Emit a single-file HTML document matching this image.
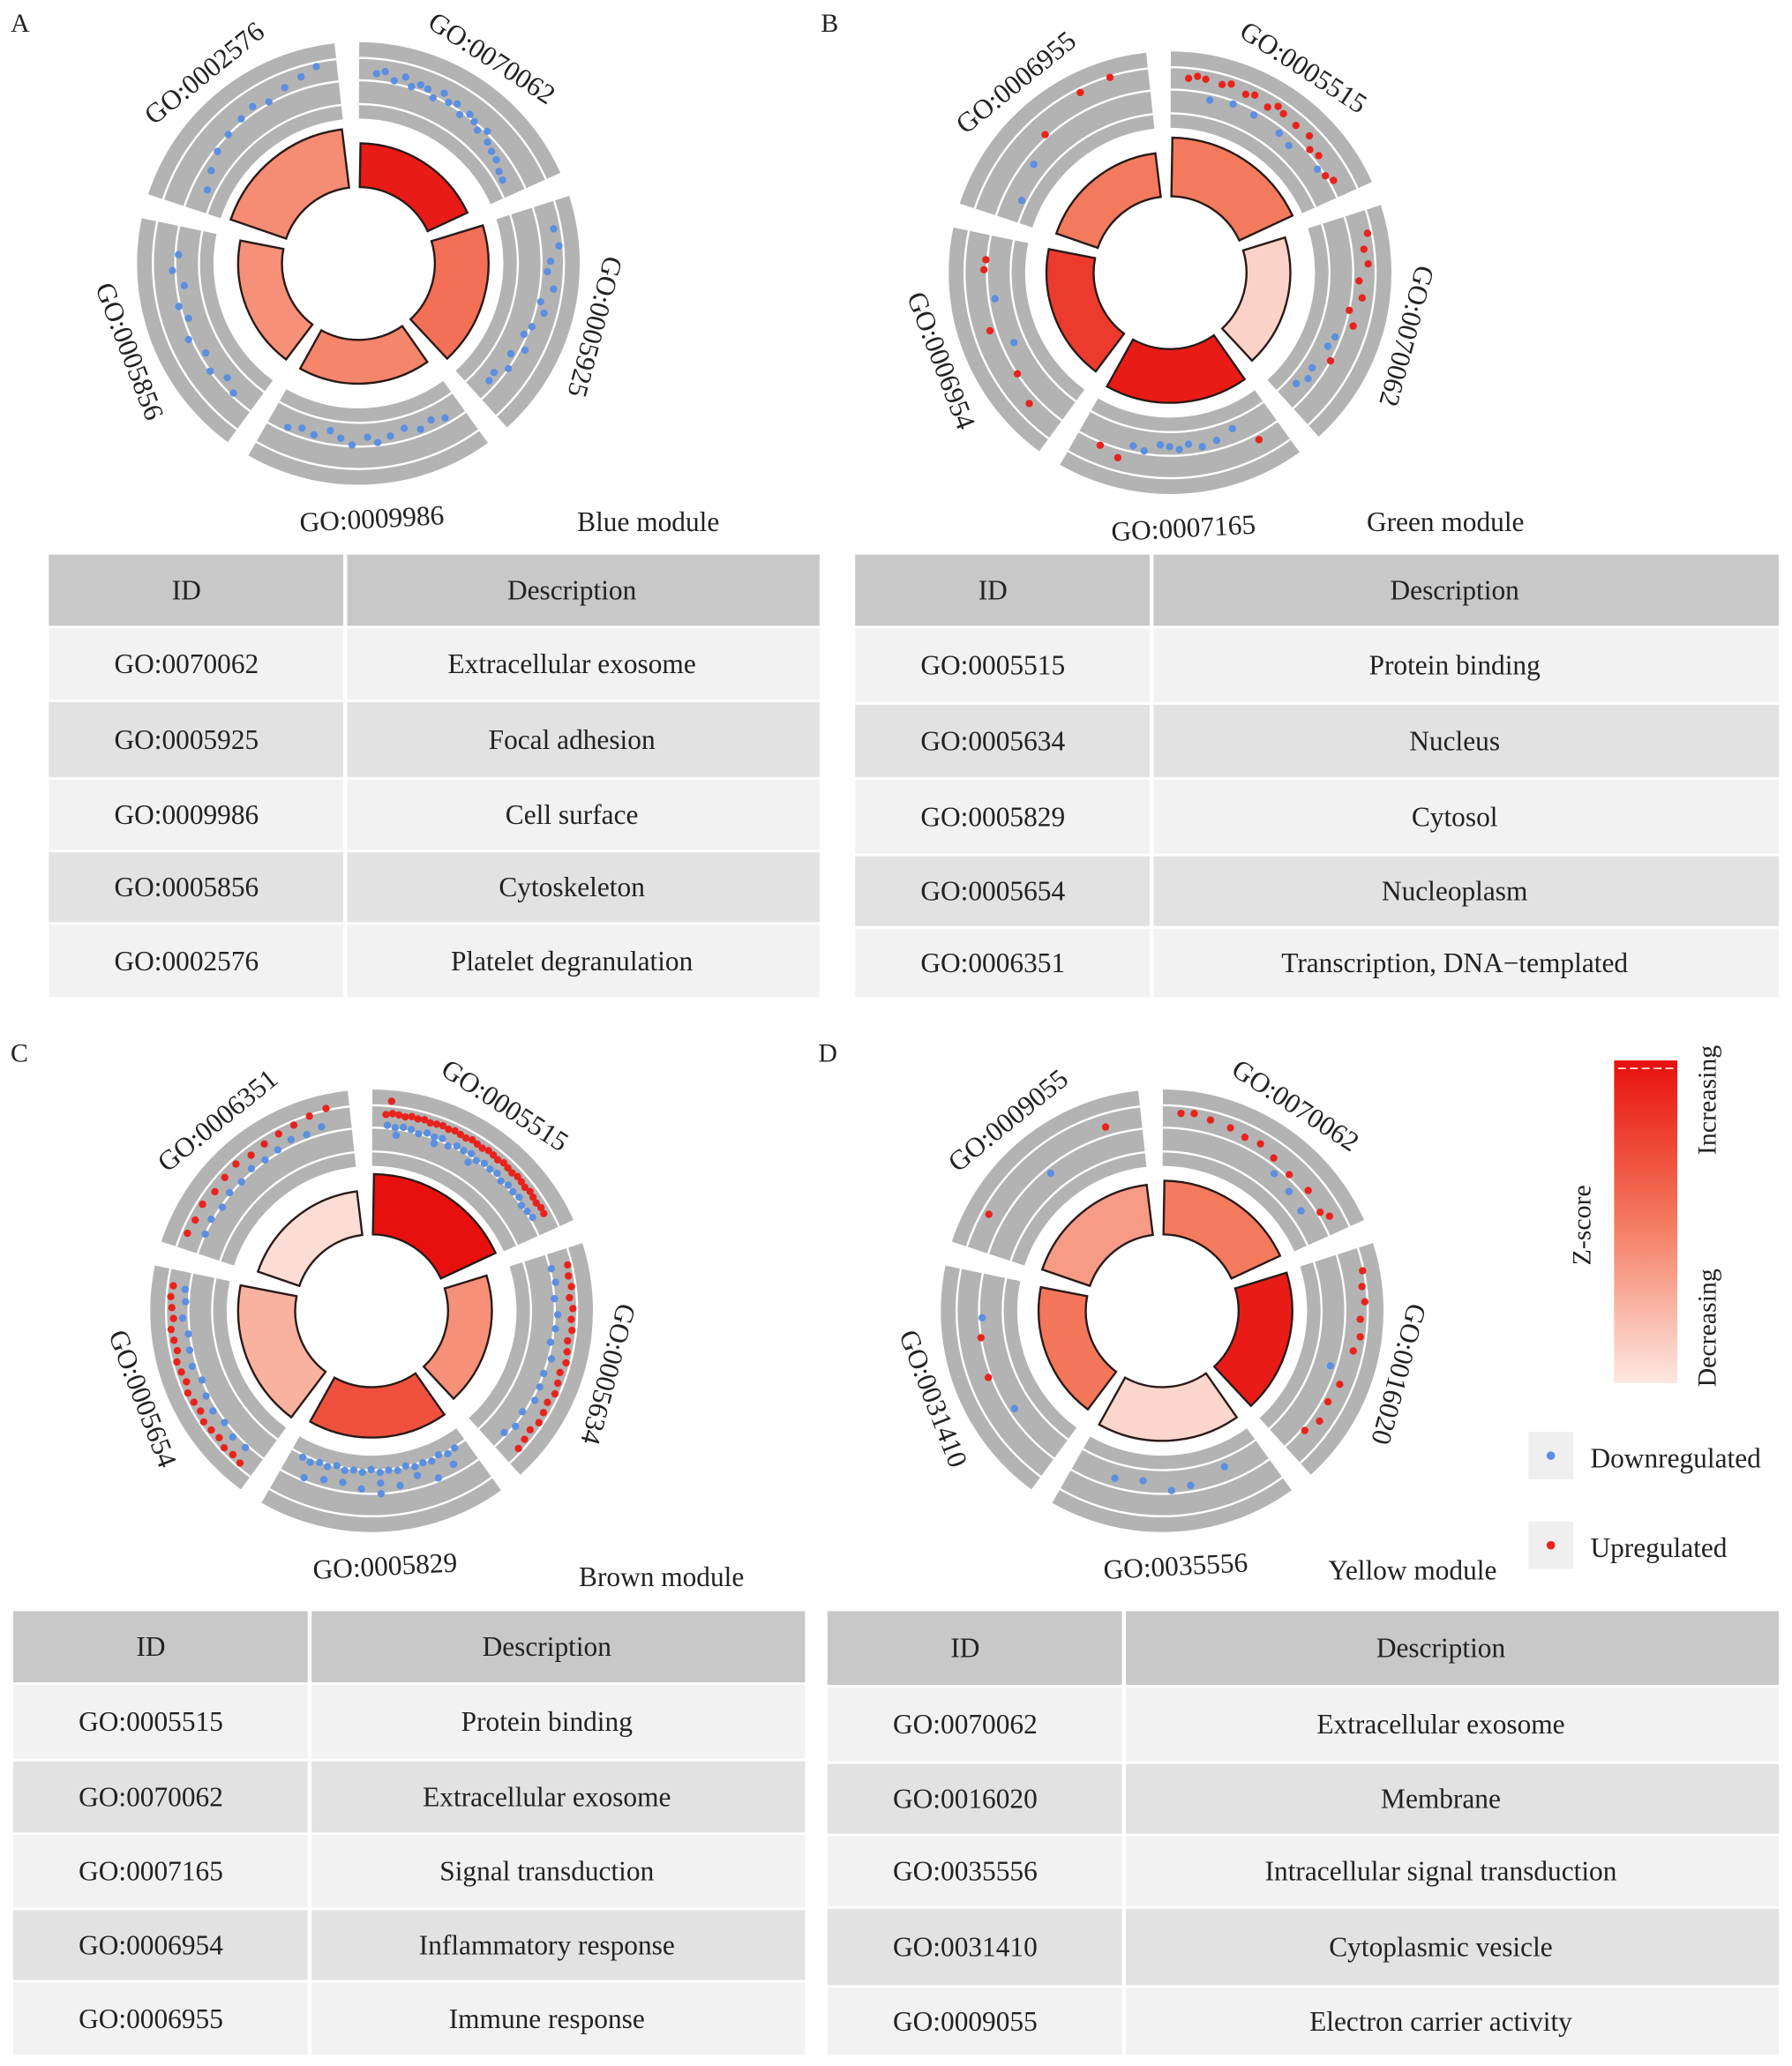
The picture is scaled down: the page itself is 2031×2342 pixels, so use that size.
<!DOCTYPE html>
<html><head><meta charset="utf-8">
<style>
html,body{margin:0;padding:0;background:#fff;}
svg{display:block;}
text{font-family:"Liberation Serif",serif;fill:#222;}
</style></head>
<body>
<svg id="fig" xmlns="http://www.w3.org/2000/svg" width="2031" height="2342" viewBox="0 0 1360 1568.3">
<defs>
<linearGradient id="zgrad" x1="0" y1="0" x2="0" y2="1">
<stop offset="0" stop-color="#e8100e"/><stop offset="0.5" stop-color="#f47a5e"/><stop offset="1" stop-color="#fde8e2"/>
</linearGradient>
</defs>
<g id="charts"></g>
<g id="tables"></g>
<g>
<rect x="1225" y="805" width="48" height="245" fill="url(#zgrad)"/>
<line x1="1228" y1="811" x2="1270" y2="811" stroke="#fff" stroke-width="1" stroke-dasharray="6,3"/>
<text x="1207" y="930" font-size="20" text-anchor="middle" transform="rotate(-90 1207 930)">Z-score</text>
<text x="1302" y="835" font-size="20" text-anchor="middle" transform="rotate(-90 1302 835)">Increasing</text>
<text x="1302" y="1008" font-size="20" text-anchor="middle" transform="rotate(-90 1302 1008)">Decreasing</text>
<rect x="1160" y="1087" width="34" height="36" fill="#efefef"/>
<circle cx="1177" cy="1105" r="3.2" fill="#5b8fe0"/>
<text x="1207" y="1114" font-size="21">Downregulated</text>
<rect x="1160" y="1155" width="34" height="36" fill="#efefef"/>
<circle cx="1177" cy="1173" r="3.2" fill="#e8231c"/>
<text x="1207" y="1182" font-size="21">Upregulated</text>
</g>
<text x="8" y="24" font-size="20">A</text>
<text x="623" y="24" font-size="20">B</text>
<text x="8" y="806" font-size="20">C</text>
<text x="621" y="806" font-size="20">D</text>
</svg>
<script>
const NS='http://www.w3.org/2000/svg';
// ---- data ----
const labelsA=['GO:0070062','GO:0005925','GO:0009986','GO:0005856','GO:0002576'];
const labelsB=['GO:0005515','GO:0070062','GO:0007165','GO:0006954','GO:0006955'];
const labelsC=['GO:0005515','GO:0005634','GO:0005829','GO:0005654','GO:0006351'];
const labelsD=['GO:0070062','GO:0016020','GO:0035556','GO:0031410','GO:0009055'];
const zA=[0.95,0.55,0.45,0.4,0.42];
const zB=[0.5,0.1,0.95,0.8,0.5];
const zC=[1.0,0.4,0.7,0.25,0.05];
const zD=[0.5,0.95,0.08,0.52,0.35];
const countA=[0.45,0.75,0.45,0.45,0.9];
const countB=[0.9,0.45,0.75,0.55,0.45];
const countC=[0.95,0.45,0.65,0.85,0.45];
const countD=[0.75,0.75,0.75,0.55,0.65];
// colour threshold per panel (logFC >= threshold drawn red)
const upThreshold={a:2,b:0,c:0.3,d:0};
// dots: [fraction across sector, logFC (-1..1)]
const dotsA=[
[[.06,.25],[.1,.35],[.15,.1],[.2,.3],[.24,.05],[.28,.2],[.32,.15],[.36,-.05],[.4,.25],[.44,.05],[.48,.15],[.52,-.1],[.56,.1],[.6,0],[.64,-.15],[.68,.05],[.72,-.2],[.77,-.3],[.82,-.35],[.88,-.5],[.93,-.55]],
[[.1,.5],[.18,.6],[.25,.3],[.3,.2],[.38,.45],[.45,.1],[.5,.3],[.58,.05],[.63,-.1],[.7,.15],[.75,-.2],[.82,.0],[.88,-.3],[.93,-.25]],
[[.08,-.2],[.15,-.35],[.22,-.2],[.3,-.4],[.38,-.25],[.45,-.1],[.5,-.3],[.58,-.05],[.64,-.25],[.7,-.45],[.78,-.2],[.85,-.3],[.92,-.15]],
[[.1,-.1],[.18,-.3],[.26,0],[.35,-.2],[.45,.1],[.55,-.15],[.62,.05],[.72,-.25],[.8,.1],[.88,-.1]],
[[.1,-.5],[.2,-.3],[.3,-.1],[.4,0],[.5,.1],[.58,.2],[.66,.05],[.76,.25],[.85,.4],[.93,.6]]];
const dotsB=[
[[.06,.4],[.1,.5],[.14,.45],[.18,-.2],[.22,.4],[.26,.5],[.3,-.1],[.34,.35],[.38,.45],[.42,-.15],[.46,.3],[.5,.5],[.54,.4],[.58,-.2],[.62,.35],[.66,-.3],[.7,.4],[.75,.1],[.8,.2],[.85,-.1],[.9,.0],[.94,.15]],
[[.08,.6],[.15,.4],[.22,.5],[.3,.2],[.38,.35],[.45,.0],[.52,.25],[.6,-.2],[.66,-.3],[.72,.0],[.8,-.4],[.86,-.3],[.92,-.5]],
[[.1,.2],[.2,-.5],[.3,-.3],[.38,-.2],[.45,-.35],[.5,-.2],[.55,-.3],[.6,-.35],[.68,-.1],[.74,-.2],[.8,.3],[.9,.1]],
[[.15,.3],[.3,.0],[.45,-.4],[.55,.2],[.7,-.2],[.85,.1],[.9,.05]],
[[.1,-.6],[.3,-.3],[.45,.1],[.7,.6],[.85,.7]]];
const dotsC=[
[[.04,.45],[.07,.5],[.1,.48],[.13,.45],[.16,.5],[.19,.47],[.22,.5],[.25,.45],[.28,.48],[.31,.5],[.34,.46],[.37,.5],[.4,.47],[.43,.45],[.46,.5],[.49,.47],[.52,.45],[.55,.5],[.58,.48],[.61,.45],[.64,.5],[.67,.47],[.7,.45],[.73,.5],[.76,.48],[.79,.45],[.82,.5],[.85,.47],[.88,.45],[.91,.5],[.94,.48],
 [.05,.1],[.09,.05],[.13,.1],[.17,.08],[.21,.0],[.25,.1],[.29,.05],[.33,.1],[.37,-.05],[.41,.08],[.45,.05],[.49,.1],[.53,.0],[.57,.08],[.61,.05],[.65,.1],[.69,.0],[.73,.08],[.77,.05],[.81,.1],[.85,.0],[.89,.05],[.93,.1],[.1,-.2],[.3,-.15],[.5,-.2],[.06,.9]],
[[.05,.6],[.1,.55],[.15,.6],[.2,.5],[.25,.6],[.3,.55],[.35,.6],[.4,.5],[.45,.55],[.5,.6],[.55,.5],[.6,.55],[.65,.6],[.7,.5],[.75,.55],[.8,.6],[.85,.5],[.9,.55],[.95,.6],
 [.05,.05],[.12,.1],[.2,.0],[.28,.1],[.35,.05],[.42,-.05],[.5,.1],[.58,0],[.65,.05],[.72,.1],[.8,-.05],[.88,.05],[.94,-.1]],
[[.05,-.75],[.1,-.7],[.15,-.8],[.2,-.7],[.25,-.75],[.3,-.7],[.35,-.8],[.4,-.7],[.45,-.75],[.5,-.7],[.55,-.8],[.6,-.7],[.65,-.75],[.7,-.7],[.75,-.8],[.8,-.7],[.85,-.75],[.9,-.65],[.95,-.7],
 [.1,-.3],[.2,-.1],[.3,-.4],[.4,-.2],[.5,-.35],[.6,-.15],[.7,-.3],[.8,-.25],[.9,-.1],[.5,.0]],
[[.05,.6],[.1,.55],[.15,.6],[.2,.5],[.25,.55],[.3,.6],[.35,.5],[.4,.55],[.45,.6],[.5,.5],[.55,.55],[.6,.6],[.65,.5],[.7,.55],[.75,.6],[.8,.5],[.85,.55],[.9,.6],[.95,.55],
 [.08,.1],[.16,.15],[.24,.05],[.32,.15],[.4,.1],[.48,.0],[.56,.15],[.64,.1],[.72,.05],[.8,.2],[.88,.1],[.94,.15]],
[[.05,.55],[.12,.5],[.2,.55],[.28,.45],[.36,.5],[.44,.55],[.52,.45],[.6,.5],[.68,.55],[.76,.6],[.84,.7],[.92,.8],
 [.08,0],[.16,.05],[.24,-.05],[.32,.05],[.4,0],[.48,.1],[.56,.05],[.64,.1],[.72,.2],[.8,.15],[.88,.25]]];
const dotsD=[
[[.06,.5],[.12,.55],[.2,.45],[.3,.4],[.38,.3],[.46,.35],[.55,.2],[.6,-.2],[.66,.1],[.72,-.3],[.78,.2],[.84,-.4],[.9,.1],[.94,.3]],
[[.08,.7],[.15,.6],[.22,.65],[.3,.5],[.38,.55],[.45,.4],[.55,-.2],[.62,.3],[.72,.2],[.82,.3],[.9,.1]],
[[.2,-.5],[.4,-.2],[.5,-.1],[.65,-.4],[.8,-.3]],
[[.3,-.2],[.5,.1],[.7,.0],[.8,-.1]],
[[.15,.5],[.5,-.2],[.85,.3]]];
// ---- drawing helpers ----
function P(cx,cy,r,a){const t=a*Math.PI/180;return [cx+r*Math.sin(t),cy-r*Math.cos(t)];}
function arcPath(cx,cy,r0,r1,a0,a1){
 const p1=P(cx,cy,r1,a0),p2=P(cx,cy,r1,a1),p3=P(cx,cy,r0,a1),p4=P(cx,cy,r0,a0);
 const lg=(a1-a0)>180?1:0;
 return `M${p1[0]},${p1[1]}A${r1},${r1} 0 ${lg} 1 ${p2[0]},${p2[1]}L${p3[0]},${p3[1]}A${r0},${r0} 0 ${lg} 0 ${p4[0]},${p4[1]}Z`;
}
function zColor(z){
 const a=[253,232,226],b=[244,122,94],c=[232,16,14];
 let s,e,t; if(z<0.5){s=a;e=b;t=z/0.5;}else{s=b;e=c;t=(z-0.5)/0.5;}
 return `rgb(${s.map((v,i)=>Math.round(v+(e[i]-v)*t)).join(',')})`;
}
const R0=58,RIN=110,ROUT=168,OFF=-3,SPAN=72;
const barR=c=>R0+22+c*25;
const dotR=v=>RIN+6+(v+1)/2*(ROUT-RIN-12);
function el(tag,attrs,parent){const e=document.createElementNS(NS,tag);for(const k in attrs)e.setAttribute(k,attrs[k]);parent.appendChild(e);return e;}
function drawChart(id,cx,cy,labels,z,cnt,dots,modName,mx,my){
 const g=el('g',{},document.getElementById('charts'));
 
 
 for(let k=0;k<5;k++){
  const a0=OFF+SPAN*k+3.2,a1=OFF+SPAN*(k+1)-3.2;
  const ring=el('path',{d:arcPath(cx,cy,RIN,ROUT,a0,a1),fill:'#b3b3b3'},g);
  
  
  [RIN+11,RIN+29,RIN+46].forEach(r=>{
   const q=P(cx,cy,r,a0),w=P(cx,cy,r,a1);
   el('path',{d:`M${q[0]},${q[1]}A${r},${r} 0 0 1 ${w[0]},${w[1]}`,fill:'none',stroke:'#fff','stroke-width':1.6},g);
  });
  const b0=OFF+SPAN*k+4,b1=OFF+SPAN*(k+1)-4;
  const bar=el('path',{d:arcPath(cx,cy,R0,barR(cnt[k]),b0,b1),fill:zColor(z[k]),stroke:'#2a1a18','stroke-width':1.6},g);
  
  
  dots[k].forEach(d=>{
   const a=a0+1.5+d[0]*(a1-a0-3);
   const p=P(cx,cy,dotR(d[1]),a);
   const c=el('circle',{cx:p[0],cy:p[1],r:2.8,fill:d[1]>=upThreshold[id]?'#e8231c':'#5b8fe0'},g);
   
   
  });
  const mid=OFF+SPAN*k+SPAN/2;
  const bottom=(mid>140&&mid<230);
  const lp=P(cx,cy,ROUT+(bottom?26:18),mid);
  const rot=mid>300?mid-360:(mid>140?mid-180:mid);
  const t=el('text',{x:lp[0],y:lp[1],'font-size':21,'text-anchor':'middle','dominant-baseline':'central',transform:`rotate(${rot} ${lp[0]} ${lp[1]})`},g);
  t.textContent=labels[k];
  
  
 }
 const m=el('text',{x:mx,y:my,'font-size':21,'text-anchor':'middle'},g);
 m.textContent=modName;
 
 
}
drawChart('a',272,200,labelsA,zA,countA,dotsA,'Blue module',492,403);
drawChart('b',888,207,labelsB,zB,countB,dotsB,'Green module',1097,403);
drawChart('c',282,995,labelsC,zC,countC,dotsC,'Brown module',502,1204);
drawChart('d',882,995,labelsD,zD,countD,dotsD,'Yellow module',1072,1199);
// ---- tables ----
const tA=[['GO:0070062','Extracellular exosome'],['GO:0005925','Focal adhesion'],['GO:0009986','Cell surface'],['GO:0005856','Cytoskeleton'],['GO:0002576','Platelet degranulation']];
const tB=[['GO:0005515','Protein binding'],['GO:0005634','Nucleus'],['GO:0005829','Cytosol'],['GO:0005654','Nucleoplasm'],['GO:0006351','Transcription, DNA\u2212templated']];
const tC=[['GO:0005515','Protein binding'],['GO:0070062','Extracellular exosome'],['GO:0007165','Signal transduction'],['GO:0006954','Inflammatory response'],['GO:0006955','Immune response']];
const tD=[['GO:0070062','Extracellular exosome'],['GO:0016020','Membrane'],['GO:0035556','Intracellular signal transduction'],['GO:0031410','Cytoplasmic vesicle'],['GO:0009055','Electron carrier activity']];
function drawTable(id,x0,split,x1,ys,rows){
 const g=el('g',{},document.getElementById('tables'));
 
 
 const fills=['#c8c8c8','#f2f2f2','#e2e2e2','#f2f2f2','#e2e2e2','#f2f2f2'];
 for(let i=0;i<6;i++){
  const y0=ys[i],y1=ys[i+1]-2;
  el('rect',{x:x0,y:y0,width:split-x0-1.5,height:y1-y0,fill:fills[i]},g);
  el('rect',{x:split+1.5,y:y0,width:x1-split-1.5,height:y1-y0,fill:fills[i]},g);
  const cells=i===0?['ID','Description']:rows[i-1];
  const ty=(y0+y1)/2+7;
  const a=el('text',{x:(x0+split)/2-8,y:ty,'font-size':21,'text-anchor':'middle'},g);
  a.textContent=cells[0];
  
  
  const b=el('text',{x:(split+x1)/2-8,y:ty,'font-size':21,'text-anchor':'middle'},g);
  b.textContent=cells[1];
  
  
 }
}
drawTable('a',37,262,622,[421,477,533,592,647,702,759],tA);
drawTable('b',649,874,1350,[421,477,535,592,650,705,759],tB);
drawTable('c',10,235,611,[1223,1279,1337,1393,1450,1505,1562],tC);
drawTable('d',628,853,1350,[1223,1281,1339,1394,1449,1509,1562],tD);
</script>
</body></html>
